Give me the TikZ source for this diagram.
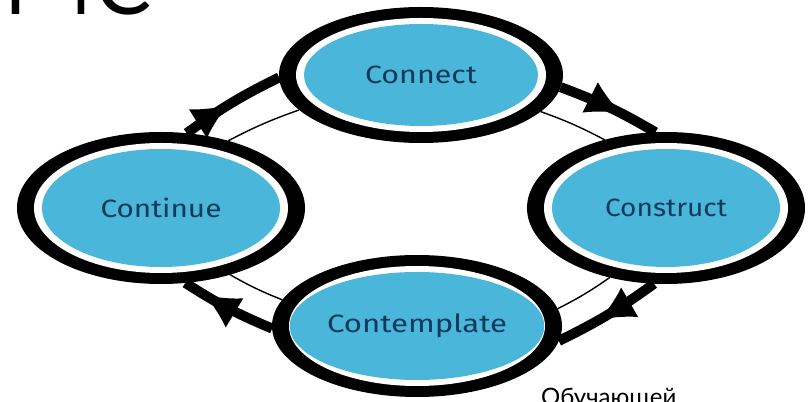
\documentclass[tikz,border=0pt]{standalone}
\usepackage{fontspec}
\setmainfont{Lato}
\newfontfamily\labelfont{Fira Sans}
\usetikzlibrary{shapes.geometric,arrows.meta,decorations.markings}
\definecolor{cycblue}{RGB}{74,182,218}
\definecolor{cycink}{RGB}{14,58,92}
\pgfdeclarelayer{background}
\pgfsetlayers{background,main}
\newcommand\cyclabel[2]{\resizebox{#1}{\height}{\labelfont\fontsize{25}{25}\selectfont #2}}
\tikzset{
  outerring/.style 2 args={ellipse, fill=black, inner sep=0pt, outer sep=0pt,
    minimum width=#1, minimum height=#2},
  gapring/.style 2 args={ellipse, fill=white, inner sep=0pt, outer sep=0pt,
    minimum width=#1, minimum height=#2},
  corering/.style 2 args={ellipse, fill=cycblue, inner sep=0pt, outer sep=0pt,
    minimum width=#1, minimum height=#2, text=cycink},
  flowline/.style={line width=10pt, line cap=butt},
  innerline/.style={line width=1.4pt},
  headat/.style={postaction={decorate},
    decoration={markings, mark=at position #1 with {\arrow[line width=0pt]{Latex[length=34pt,width=34pt]}}}},
}
\begin{document}
\begin{tikzpicture}[x=1pt,y=1pt]
\useasboundingbox (0,0) rectangle (810,401);

% heading fragment and caption fragment
\node[anchor=base east, inner sep=0pt, font=\fontsize{84}{84}\selectfont] (heading) at (152,386) {Цикл 4С};
\node[anchor=base west, inner sep=0pt, font=\fontsize{24}{24}\selectfont] (caption) at (541,-4) {Обучающей};

% the four stages: black ring, white gap, blue core
\node[outerring={284pt}{136pt}] (connect) at (421,326) {};
\node[gapring={250pt}{114pt}] (connect-w) at (connect) {};
\node[corering={234pt}{102pt}] (connect-c) at (connect) {\cyclabel{112pt}{Connect}};

\node[outerring={278pt}{152pt}] (construct) at (666,193) {};
\node[gapring={244pt}{130pt}] (construct-w) at (construct) {};
\node[corering={228pt}{118pt}] (construct-c) at (construct) {\cyclabel{122pt}{Construct}};

\node[outerring={290pt}{142pt}] (contemplate) at (417,75) {};
\node[gapring={256pt}{120pt}] (contemplate-w) at (contemplate) {};
\node[corering={240pt}{108pt}] (contemplate-c) at (contemplate) {\cyclabel{180pt}{Contemplate}};

\node[outerring={288pt}{152pt}] (continue) at (161,193) {};
\node[gapring={254pt}{130pt}] (continue-w) at (continue) {};
\node[corering={238pt}{118pt}] (continue-c) at (continue) {\cyclabel{121pt}{Continue}};

\begin{pgfonlayer}{background}
  % thick outer cycle with arrowheads
  \draw[flowline, headat=0.45] (continue.71) to[bend left=5] (connect.181);
  \draw[flowline, headat=0.62] (connect.355) to[bend left=5] (construct.98);
  \draw[flowline, headat=0.58] (construct.261) to[bend left=5] (contemplate.354);
  \draw[flowline, headat=0.76] (contemplate.181) to[bend left=5] (continue.288);
  % thin inner cycle
  \draw[innerline] (continue.45) to[bend left=4] (connect.196);
  \draw[innerline] (connect.343) to[bend left=4] (construct.132);
  \draw[innerline] (construct.231) to[bend left=4] (contemplate.7);
  \draw[innerline] (contemplate.169) to[bend left=4] (continue.316);
\end{pgfonlayer}
\end{tikzpicture}
\end{document}
